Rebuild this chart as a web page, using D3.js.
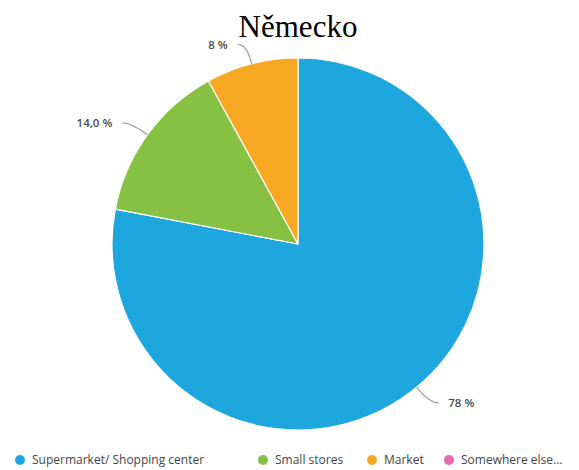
<!DOCTYPE html>
<html>
<head>
<meta charset="utf-8">
<script src="https://cdn.jsdelivr.net/npm/d3@7/dist/d3.min.js"></script>
<style>
  html, body { margin: 0; padding: 0; background: #fff; }
  svg { display: block; }
</style>
</head>
<body>
<svg id="chart" width="579" height="470"></svg>
<script>
// Chart data
const title = "Německo";
const categories = ["Supermarket/ Shopping center", "Small stores", "Market", "Somewhere else..."];
const values = [78, 14, 8, 0];
const valueLabels = ["78 %", "14,0 %", "8 %", ""];
const colors = ["#1ea7df", "#87c143", "#f9a824", "#e96aad"];

const width = 579, height = 470;
const cx = 298, cy = 244, radius = 186;

const svg = d3.select("#chart");

svg.append("text")
  .attr("x", cx)
  .attr("y", 37)
  .attr("text-anchor", "middle")
  .attr("font-family", "'Liberation Serif', 'Times New Roman', serif")
  .attr("font-size", 31)
  .attr("fill", "#000")
  .text(title);

const data = categories.map((c, i) => ({ name: c, value: values[i], label: valueLabels[i], color: colors[i] }));

const pie = d3.pie().sort(null).value(d => d.value);
const arcs = pie(data);
const arc = d3.arc().innerRadius(0).outerRadius(radius);

const g = svg.append("g").attr("transform", `translate(${cx},${cy})`);

g.selectAll("path.slice")
  .data(arcs.filter(a => a.data.value > 0))
  .join("path")
  .attr("class", "slice")
  .attr("d", arc)
  .attr("fill", d => d.data.color)
  .attr("stroke", "#fff")
  .attr("stroke-width", 1.2)
  .attr("stroke-linejoin", "round");

// Leader lines and value labels
const pt = (ang, r) => [Math.sin(ang) * r, -Math.cos(ang) * r];
arcs.filter(a => a.data.value > 0).forEach(a => {
  const mid = (a.startAngle + a.endAngle) / 2;
  const right = Math.sin(mid) >= 0;
  const p0 = pt(mid, radius);
  const p1 = pt(mid, radius + 20);
  const dir = right ? 1 : -1;
  const p2 = [p1[0] + dir * 9, p1[1]];
  g.append("path")
    .attr("d", `M${p0[0]},${p0[1]} Q${p1[0]},${p1[1]} ${p2[0]},${p2[1]}`)
    .attr("fill", "none")
    .attr("stroke", "#a0a0a0")
    .attr("stroke-width", 1.3);
  g.append("text")
    .attr("x", p2[0] + dir * 10)
    .attr("y", p2[1])
    .attr("dy", "0.35em")
    .attr("text-anchor", right ? "start" : "end")
    .attr("font-family", "'Open Sans', 'Noto Sans', sans-serif")
    .attr("font-size", 11.5)
    .attr("font-weight", 600)
    .attr("fill", "#4a4a4a")
    .text(a.data.label);
});

// Legend
const legendX = [20, 263, 372, 449];
const legend = svg.append("g").attr("transform", "translate(0,460)");
data.forEach((d, i) => {
  legend.append("circle")
    .attr("cx", legendX[i])
    .attr("cy", 0)
    .attr("r", 5)
    .attr("fill", d.color);
  legend.append("text")
    .attr("x", legendX[i] + 12)
    .attr("y", 0)
    .attr("dy", "0.35em")
    .attr("font-family", "'Open Sans', 'Noto Sans', sans-serif")
    .attr("font-size", 12)
    .attr("fill", "#444")
    .text(d.name);
});
</script>
</body>
</html>
